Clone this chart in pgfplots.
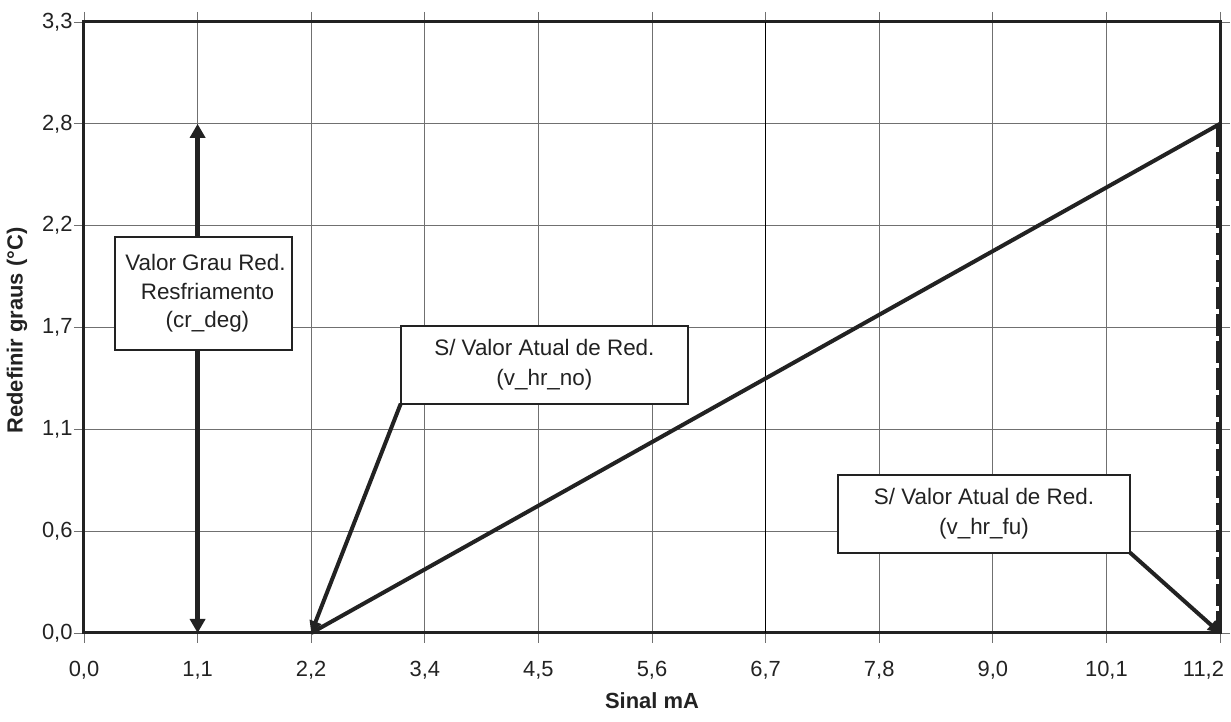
\documentclass[border=0pt]{standalone}
\usepackage{fontspec}
\setmainfont{Liberation Sans}
\usepackage{pgfplots}
\pgfplotsset{compat=1.18}
\usetikzlibrary{arrows.meta}
\definecolor{ink}{HTML}{222222}
\definecolor{gridc}{HTML}{707070}
\begin{document}
\begin{tikzpicture}
\begin{axis}[
 name=ax, scale only axis, width=1136bp, height=611bp,
 xmin=0, xmax=11.2, ymin=0, ymax=3.3,
 xtick={0,1.12,2.24,3.36,4.48,5.6,6.72,7.84,8.96,10.08,11.2},
 xticklabels={{0,0},{1,1},{2,2},{3,4},{4,5},{5,6},{6,7},{7,8},{9,0},{10,1},{\makebox[0pt][r]{11,2\hspace{-4bp}}}},
 ytick={0,0.55,1.1,1.65,2.2,2.75,3.3},
 yticklabels={{0,0},{0,6},{1,1},{1,7},{2,2},{2,8},{3,3}},
 tick align=outside, major tick length=10bp, tick style={gridc, line width=0.8bp},
 grid=major, grid style={gridc, line width=0.9bp},
 axis line style={ink, line width=3bp},
 ticklabel style={font=\fontsize{22}{26}\selectfont, text=ink},
 xticklabel style={yshift=-15bp},
 yticklabel style={xshift=2bp},
 xlabel={Sinal mA}, ylabel={Redefinir graus (°C)},
 label style={font=\bfseries\fontsize{22}{26}\selectfont, text=ink},
 x label style={at={(axis description cs:0.5,-0.11)}, anchor=center},
 y label style={at={(axis description cs:-0.059,0.495)}, anchor=center},
 clip=false,
]
\addplot[black, line width=1.2bp, forget plot] coordinates {(6.72,0) (6.72,3.3)};
\addplot[ink, line width=4bp] coordinates {(2.24,0) (11.2,2.75)};
\addplot[ink, line width=4.5bp, {Triangle[length=14bp,width=15bp]}-{Triangle[length=14bp,width=15bp]}] coordinates {(1.12,0) (1.12,2.75)};
\addplot[ink, line width=4.5bp, dash pattern=on 22bp off 5bp, xshift=-1.5bp] coordinates {(11.2,0) (11.2,2.75)};
\addplot[ink, line width=4bp, -{Triangle[length=12bp,width=12bp]}] coordinates {(3.123,1.239) (2.24,0)};
\addplot[ink, line width=4bp, -{Triangle[length=12bp,width=12bp]}] coordinates {(10.313,0.434) (11.2,0)};
\node[draw=ink, line width=2bp, fill=white, minimum width=177bp, minimum height=113bp, align=center, inner sep=0pt, font=\fontsize{22.5}{28.5}\selectfont, text=ink] at (axis cs:1.178,1.834) {\hspace*{4bp}Valor Grau Red.\\\hspace*{8bp}Resfriamento\\\hspace*{8bp}(cr\_deg)};
\node[draw=ink, line width=2bp, fill=white, minimum width=287bp, minimum height=78bp, align=center, inner sep=0pt, font=\fontsize{22.5}{30}\selectfont, text=ink] at (axis cs:4.539,1.449) {S/ Valor Atual de Red.\\(v\_hr\_no)};
\node[draw=ink, line width=2bp, fill=white, minimum width=292bp, minimum height=78bp, align=center, inner sep=0pt, font=\fontsize{22.5}{30}\selectfont, text=ink] at (axis cs:8.873,0.643) {S/ Valor Atual de Red.\\(v\_hr\_fu)};
\end{axis}
\pgfresetboundingbox
\path ([shift={(-84bp,-89bp)}]ax.south west) rectangle ([shift={(11bp,22bp)}]ax.north east);
\end{tikzpicture}
\end{document}
